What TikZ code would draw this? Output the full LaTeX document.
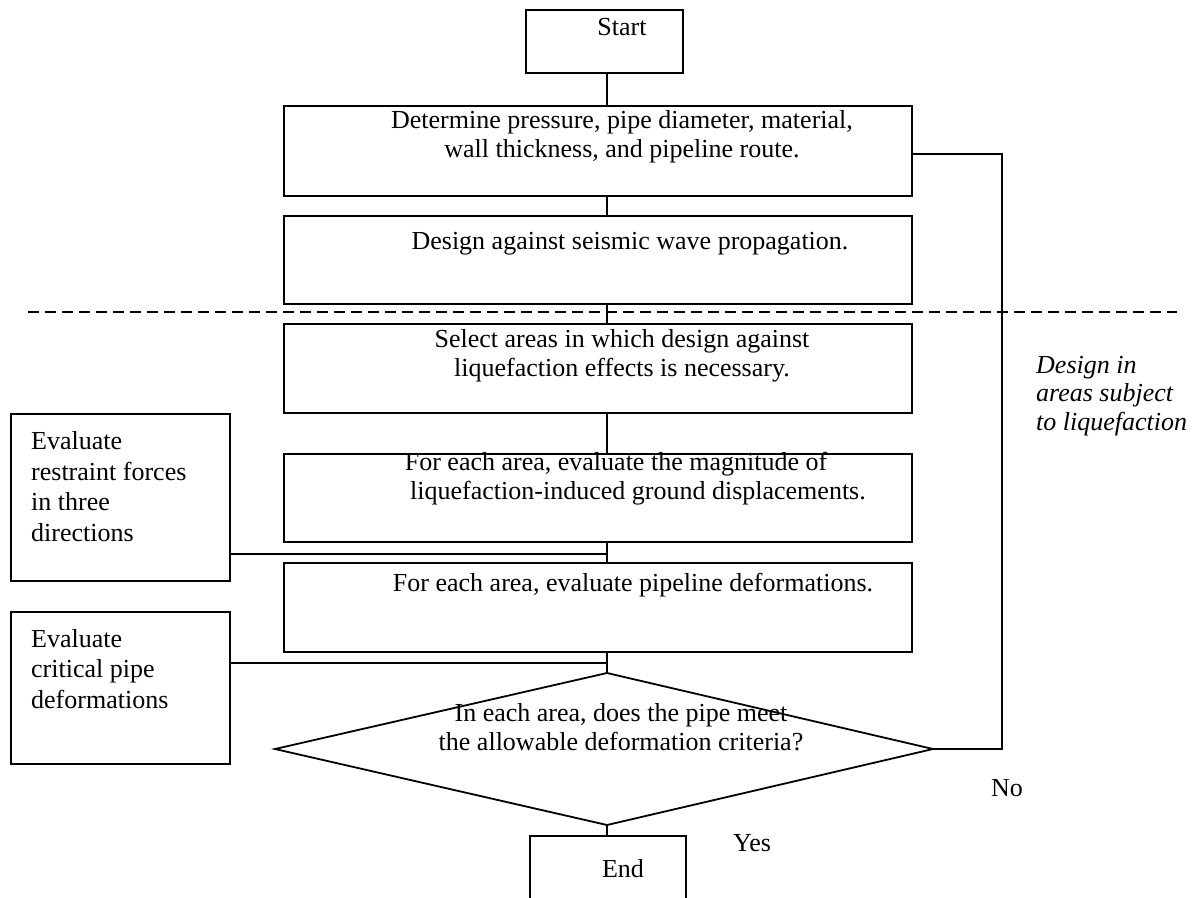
\documentclass[tikz,border=0pt]{standalone}
\usepackage{fontspec}
\setmainfont{Liberation Serif}
\begin{document}
\begin{tikzpicture}[x=1pt,y=-1pt,
  box/.style={draw,line width=1.8pt,inner sep=0pt,anchor=north west},
  conn/.style={line width=1.8pt},
  lbl/.style={inner sep=0pt,anchor=base,align=center,font=\fontsize{26}{29}\selectfont},
  side/.style={inner sep=0pt,anchor=base west,align=left,font=\fontsize{26}{30.5}\selectfont},
  note/.style={inner sep=0pt,anchor=base west,align=left,font=\fontsize{26}{28.5}\selectfont\itshape},
  divider/.style={line width=1.5pt,dash pattern=on 11pt off 6pt}]
\useasboundingbox (0,0) rectangle (1199,897);
\clip (0,0) rectangle (1199,897);

% main column of steps (multi-line labels are placed by their last baseline)
\node[box,minimum width=157pt,minimum height=63pt] (start) at (525,9) {};
\node[lbl] (starttxt) at (622,35) {Start};

\node[box,minimum width=628pt,minimum height=90pt] (route) at (283,105) {};
\node[lbl] (routetxt) at (622,157) {Determine pressure, pipe diameter, material,\\ wall thickness, and pipeline route.};

\node[box,minimum width=628pt,minimum height=88pt] (wave) at (283,215) {};
\node[lbl] (wavetxt) at (630,249) {Design against seismic wave propagation.};

\node[box,minimum width=628pt,minimum height=89pt] (select) at (283,323) {};
\node[lbl] (selecttxt) at (622,376) {Select areas in which design against\\ liquefaction effects is necessary.};

\node[box,minimum width=628pt,minimum height=88pt] (disp) at (283,453) {};
\node[lbl] (disptxt) at (638,499) {For each area, evaluate the magnitude of\hspace*{44pt}\\ liquefaction-induced ground displacements.};

\node[box,minimum width=628pt,minimum height=89pt] (deform) at (283,562) {};
\node[lbl] (deformtxt) at (633,591) {For each area, evaluate pipeline deformations.};

% side inputs
\node[box,minimum width=219pt,minimum height=167pt] (restr) at (10,413) {};
\node[side] (restrtxt) at (31,541) {Evaluate\\ restraint forces\\ in three\\ directions};

\node[box,minimum width=219pt,minimum height=152pt] (crit) at (10,611) {};
\node[side] (crittxt) at (31,708) {Evaluate\\ critical pipe\\ deformations};

% decision
\coordinate (dtop) at (607,673);
\coordinate (dleft) at (275,749);
\coordinate (dright) at (933,749);
\coordinate (dbot) at (607,825);
\draw[conn] (dtop) -- (dright) -- (dbot) -- (dleft) -- cycle;
\node[lbl] (qtxt) at (621,750) {In each area, does the pipe meet\\ the allowable deformation criteria?};

\node[box,minimum width=156pt,minimum height=100pt] (end) at (529,835) {};
\node[lbl] (endtxt) at (623,877) {End};

\node[lbl,anchor=base west] (yes) at (733,851) {Yes};
\node[lbl,anchor=base west] (no) at (991,796) {No};

% region divider and its note
\coordinate (dashL) at (28,312);
\coordinate (dashR) at (1177,312);
\draw[divider] (dashL) -- (dashR);
\node[note] (region) at (1036,430) {Design in\\ areas subject\\ to liquefaction};

% connectors
\coordinate (spine) at (607,0);
\coordinate (loopx) at (1002,0);
\coordinate (j1) at (607,554);
\coordinate (j2) at (607,663);
\coordinate (rj) at ([yshift=-3pt]route.east);
\draw[conn] (start.south -| spine) -- (route.north -| spine);
\draw[conn] (route.south -| spine) -- (wave.north -| spine);
\draw[conn] (wave.south -| spine) -- (select.north -| spine);
\draw[conn] (select.south -| spine) -- (disp.north -| spine);
\draw[conn] (disp.south -| spine) -- (deform.north -| spine);
\draw[conn] (deform.south -| spine) -- (dtop);
\draw[conn] (dbot) -- (end.north -| spine);
\draw[conn] (restr.east |- j1) -- (j1);
\draw[conn] (crit.east |- j2) -- (j2);
\draw[conn] (dright) -- (dright -| loopx) -- (loopx |- rj) -- (rj);
\end{tikzpicture}
\end{document}
